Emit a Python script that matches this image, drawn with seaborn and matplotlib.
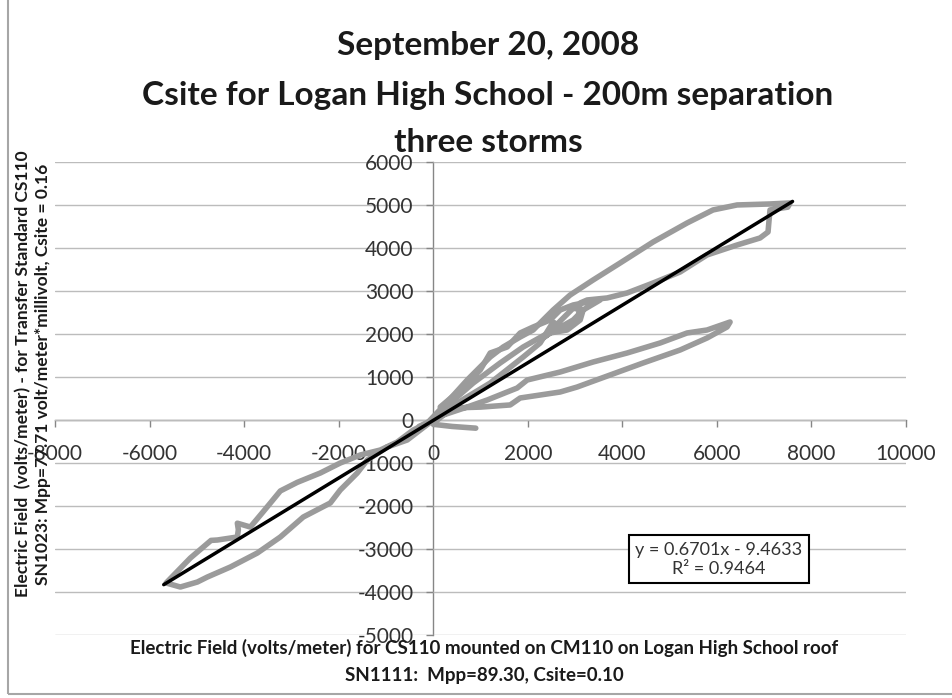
import matplotlib.pyplot as plt
import seaborn as sns
from matplotlib.patches import Rectangle

# gray traces, electric field in volts/meter
# x = CS110 on Logan High School roof, y = transfer standard CS110
upper_x = [-150, 300, 719, 930, 1205, 1480, 1839, 2114, 2325, 2537, 2896, 3382, 3953, 4651, 5370,
           5919, 6427, 7124, 7547, 7500, 7124, 7100, 7082, 6913, 6427, 5792, 5222, 4651, 4101,
           3678, 3256, 3108, 3065, 2790, 2537, 2262, 1903, 1205, 507, 100]
upper_y = [-100, 420, 930, 1163, 1465, 1698, 1930, 2093, 2326, 2558, 2907, 3256, 3651, 4140, 4582,
           4885, 5001, 5024, 5047, 4950, 4885, 4605, 4373, 4233, 4070, 3838, 3442, 3186, 2954,
           2838, 2791, 2721, 2372, 2093, 2279, 1791, 1465, 860, 395, 60]

mid_x = [148, 571, 994, 1205, 1564, 1839, 2114, 2473, 2685, 2960, 3171, 3530, 3171, 2960, 2473,
         2262, 2473, 2833, 3108, 3171, 2960, 2685, 2473, 1903, 1416, 846, 359, -50]
mid_y = [302, 698, 1163, 1558, 1698, 2024, 2163, 2326, 2558, 2675, 2721, 2791, 2558, 2326, 2024,
         1861, 2024, 2093, 2326, 2558, 2600, 2300, 2050, 1698, 1326, 860, 395, 0]

lower_x = [-300, 211, 719, 1142, 1564, 1776, 1987, 2685, 3382, 4101, 4799, 5370, 5792, 6279,
           6215, 5792, 5222, 4439, 3742, 3044, 2685, 1839, 1628, 1000, 400, 0]
lower_y = [-150, 116, 302, 465, 651, 744, 930, 1116, 1349, 1558, 1791, 2024, 2093, 2279,
           2163, 1907, 1628, 1326, 1047, 767, 651, 512, 350, 300, 280, -80]

zero_x = [0, 400, 900]
zero_y = [-100, -150, -190]

neg_x = [0, -423, -761, -1120, -1543, -1966, -2389, -2875, -3234, -3594, -3868, -4143, -4122,
         -4143, -4566, -4700, -5137, -5650, -5349, -4989, -4778, -4291, -3720, -3234, -2748,
         -2177, -1966, -1607, -1395, -972, -550, -275, 0]
neg_y = [0, -233, -512, -698, -814, -1000, -1233, -1450, -1650, -2130, -2489, -2400, -2550,
         -2721, -2791, -2800, -3210, -3790, -3884, -3768, -3652, -3419, -3093, -2721, -2256,
         -1930, -1628, -1233, -930, -628, -465, -233, 0]

# linear trendline from the chart
slope = 0.6701
intercept = -9.4633
r2 = 0.9464
trend_x = [-5700, 7600]
trend_y = [slope * v + intercept for v in trend_x]

sns.set_theme(style="white")
plt.rcParams['font.family'] = ['Lato', 'DejaVu Sans']
plt.rcParams['axes.unicode_minus'] = False

W, H = 953, 698
fig = plt.figure(figsize=(W / 100, H / 100), dpi=100)
ax = fig.add_axes([55 / W, 1 - 635 / H, (906 - 55) / W, (635 - 162) / H])

gray = '#9b9b9b'
for xs, ys in [(upper_x, upper_y), (mid_x, mid_y), (lower_x, lower_y),
               (zero_x, zero_y), (neg_x, neg_y)]:
    sns.lineplot(x=xs, y=ys, sort=False, estimator=None, color=gray,
                 lw=4, ax=ax, solid_capstyle='round', solid_joinstyle='round')

sns.lineplot(x=trend_x, y=trend_y, sort=False, estimator=None, color='black', lw=2.5, ax=ax)

ax.set_xlim(-8000, 10000)
ax.set_ylim(-5000, 6000)
ax.set_xticks(range(-8000, 10001, 2000))
ax.set_yticks(range(-5000, 6001, 1000))

for s in ['top', 'right']:
    ax.spines[s].set_visible(False)
ax.spines['left'].set_position(('data', 0))
ax.spines['bottom'].set_position(('data', 0))
for s in ['left', 'bottom']:
    ax.spines[s].set_color('#868686')
    ax.spines[s].set_linewidth(1)
    ax.spines[s].set_zorder(0.5)

ax.yaxis.grid(True, color='#bcbcbc', lw=1)
ax.set_axisbelow(True)
ax.tick_params(axis='x', direction='out', length=5, width=1, color='#868686',
               labelsize=15, labelcolor='#333333', pad=12, bottom=True)
ax.tick_params(axis='y', direction='out', length=5, width=1, color='#868686',
               labelsize=15, labelcolor='#333333', pad=9, left=True)

ax.text(0.78, 0.16, f"y = {slope}x - {abs(intercept)}\nR\u00b2 = {r2}",
        transform=ax.transAxes, ha='center', va='center', fontsize=13,
        color='#333333', linespacing=1.25,
        bbox=dict(boxstyle='square,pad=0.35', fc='white', ec='black', lw=1.5))

# titles and axis labels
title_lines = ["September 20, 2008", "Csite for Logan High School - 200m separation", "three storms"]
for t, yp in zip(title_lines, [45, 95, 143]):
    fig.text(488 / W, 1 - yp / H, t, ha='center', va='center', fontsize=24,
             fontweight='bold', color='#1a1a1a')

fig.text(484 / W, 1 - 648 / H,
         "Electric Field (volts/meter) for CS110 mounted on CM110 on Logan High School roof",
         ha='center', va='center', fontsize=13.5, fontweight='bold', color='#1a1a1a')
fig.text(484 / W, 1 - 676 / H, "SN1111:  Mpp=89.30, Csite=0.10",
         ha='center', va='center', fontsize=13.5, fontweight='bold', color='#1a1a1a')

fig.text(33 / W, 1 - 374 / H,
         "Electric Field  (volts/meter) - for Transfer Standard CS110\n"
         "SN1023: Mpp=77.71 volt/meter*millivolt, Csite = 0.16",
         rotation=90, ha='center', va='center', fontsize=12.5, fontweight='bold',
         color='#1a1a1a', multialignment='center', linespacing=1.3)

# chart frame: only the left and bottom edges fall inside the image
fig.add_artist(Rectangle((8 / W, 4 / H), 1.0, 1.0, transform=fig.transFigure,
                         fill=False, ec='#a6a6a6', lw=1.5))

fig.savefig("out.png", dpi=100)
